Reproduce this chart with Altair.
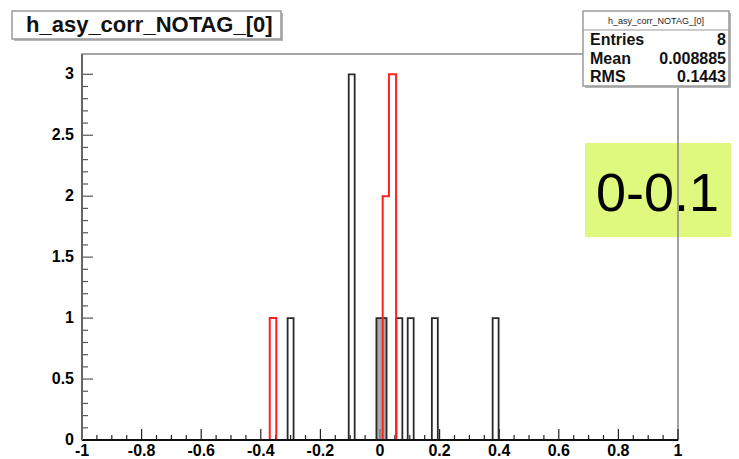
import altair as alt
import pandas as pd
import numpy as np

# ---- data ----
black_left = [-0.31, -0.105, -0.012, 0.055, 0.093, 0.174, 0.378]
black_right = [-0.29, -0.085, 0.022, 0.075, 0.113, 0.194, 0.398]
black_count = [1, 3, 1, 1, 1, 1, 1]
black_filled = [False, False, True, False, False, False, False]

red_left = [-0.37, 0.009, 0.030]
red_right = [-0.348, 0.030, 0.054]
red_count = [1, 2, 3]

x_major = [-1, -0.8, -0.6, -0.4, -0.2, 0, 0.2, 0.4, 0.6, 0.8, 1]
x_labels = ["-1", "-0.8", "-0.6", "-0.4", "-0.2", "0", "0.2", "0.4", "0.6", "0.8", "1"]
y_major = [0, 0.5, 1, 1.5, 2, 2.5, 3]
y_labels = ["0", "0.5", "1", "1.5", "2", "2.5", "3"]

title_text = "h_asy_corr_NOTAG_[0]"
stat_labels = ["Entries", "Mean", "RMS"]
stat_values = ["8", "0.008885", "0.1443"]
tag_text = "0-0.1"

# ---- layout ----
W, H = 596, 384
XMIN, XMAX, YMAX = -1.0, 1.0, 3.15
FONT = "Liberation Sans, Arial, Helvetica, sans-serif"

xs = alt.Scale(domain=[XMIN, XMAX], nice=False, zero=False)
ys = alt.Scale(domain=[0, YMAX], nice=False, zero=False)
one = alt.Data(values=[{}])

# black histogram bars
bars = pd.DataFrame({
    "x0": black_left, "x1": black_right, "n": black_count,
    "b": [0] * len(black_count),
    "fo": [0.75 if f else 0.0 for f in black_filled],
})
bar_layer = alt.Chart(bars).mark_rect(stroke="#2a2a2a", strokeWidth=1.8, fill="#8f8f8f").encode(
    x=alt.X("x0:Q", scale=xs, axis=None), x2="x1:Q",
    y=alt.Y("n:Q", scale=ys, axis=None), y2="b:Q",
    fillOpacity=alt.FillOpacity("fo:Q", scale=None),
)

# red histogram as a step outline (contiguous bins merged)
rows = []
grp = 0
i = 0
while i < len(red_left):
    j = i
    while j + 1 < len(red_left) and abs(red_left[j + 1] - red_right[j]) < 1e-9:
        j += 1
    pts = [(red_left[i], 0)]
    for k in range(i, j + 1):
        pts.append((red_left[k], red_count[k]))
        pts.append((red_right[k], red_count[k]))
    pts.append((red_right[j], 0))
    for o, (px, py) in enumerate(pts):
        rows.append({"x": px, "y": py, "g": grp, "o": o})
    grp += 1
    i = j + 1
red_df = pd.DataFrame(rows)
red_layer = alt.Chart(red_df).mark_line(color="#ff2020", strokeWidth=2, interpolate="linear").encode(
    x=alt.X("x:Q", scale=xs, axis=None), y=alt.Y("y:Q", scale=ys, axis=None),
    detail="g:N", order="o:Q",
)

# ticks (ROOT style, pointing inward)
xt = np.round(np.arange(-1, 1.0001, 0.05), 4)
xt_df = pd.DataFrame({"v": xt, "len": [11 if abs(v * 5 - round(v * 5)) < 1e-6 else 5 for v in xt]})
xt_df["y0"] = 0.0
xt_df["y1"] = xt_df["len"] / H * YMAX
xtick_layer = alt.Chart(xt_df).mark_rule(color="#222", strokeWidth=1.2).encode(
    x=alt.X("v:Q", scale=xs, axis=None),
    y=alt.Y("y0:Q", scale=ys, axis=None), y2="y1:Q",
)

yt = np.round(np.arange(0, 3.0001, 0.1), 4)
yt_df = pd.DataFrame({"v": yt, "len": [11 if abs(v * 2 - round(v * 2)) < 1e-6 else 6 for v in yt]})
yt_df["x0"] = XMIN
yt_df["x1"] = XMIN + yt_df["len"] / W * (XMAX - XMIN)
ytick_layer = alt.Chart(yt_df).mark_rule(color="#555", strokeWidth=1.2).encode(
    y=alt.Y("v:Q", scale=ys, axis=None),
    x=alt.X("x0:Q", scale=xs, axis=None), x2="x1:Q",
)

# tick labels
xl_df = pd.DataFrame({"v": x_major, "t": x_labels})
xlab_layer = alt.Chart(xl_df).mark_text(
    font=FONT, fontSize=16, fontWeight="bold", align="center", baseline="top", color="black").encode(
    x=alt.X("v:Q", scale=xs, axis=None), y=alt.value(H + 3), text="t:N")
yl_df = pd.DataFrame({"v": y_major, "t": y_labels})
ylab_layer = alt.Chart(yl_df).mark_text(
    font=FONT, fontSize=16, fontWeight="bold", align="right", baseline="middle", color="black").encode(
    y=alt.Y("v:Q", scale=ys, axis=None), x=alt.value(-8), text="t:N")

# frame and axis lines
frame = alt.Chart(one).mark_rect(fillOpacity=0, stroke="#8a8a8a", strokeWidth=1.6).encode(
    x=alt.value(0), x2=alt.value(W), y=alt.value(-2), y2=alt.value(H))
xaxis_line = alt.Chart(one).mark_rule(color="#111", strokeWidth=2).encode(
    x=alt.value(0), x2=alt.value(W), y=alt.value(H))
yaxis_line = alt.Chart(one).mark_rule(color="#666", strokeWidth=2).encode(
    x=alt.value(0), y=alt.value(-2), y2=alt.value(H))

# green tag
green = alt.Chart(one).mark_rect(fill="#dff97f").encode(
    x=alt.value(503), x2=alt.value(660), y=alt.value(87), y2=alt.value(181))
green_text = alt.Chart(one).mark_text(
    text=tag_text, font=FONT, fontSize=54, align="left", baseline="alphabetic", color="black").encode(
    x=alt.value(514), y=alt.value(155))

# title box
t_shadow = alt.Chart(one).mark_rect(fill="#b5b5b5").encode(
    x=alt.value(-68), x2=alt.value(201), y=alt.value(-43), y2=alt.value(-15))
t_box = alt.Chart(one).mark_rect(fill="white", stroke="#9a9a9a", strokeWidth=1.5).encode(
    x=alt.value(-70), x2=alt.value(199), y=alt.value(-45), y2=alt.value(-17))
t_text = alt.Chart(one).mark_text(
    text=title_text, font=FONT, fontSize=22, fontWeight="bold", align="left",
    baseline="middle", color="#111").encode(x=alt.value(-56), y=alt.value(-31))

# stats box (kept within the drawable width)
SX0, SX1 = 501, 647
s_shadow = alt.Chart(one).mark_rect(fill="#b5b5b5").encode(
    x=alt.value(SX0 + 2), x2=alt.value(SX1 + 2), y=alt.value(-43), y2=alt.value(32))
s_box = alt.Chart(one).mark_rect(fill="white", stroke="#9a9a9a", strokeWidth=1.5).encode(
    x=alt.value(SX0), x2=alt.value(SX1), y=alt.value(-45), y2=alt.value(30))
s_sep = alt.Chart(one).mark_rule(color="#9a9a9a", strokeWidth=1.2).encode(
    x=alt.value(SX0), x2=alt.value(SX1), y=alt.value(-26))
s_head = alt.Chart(one).mark_text(
    text=title_text, font=FONT, fontSize=9, align="center", baseline="middle",
    color="#222").encode(x=alt.value((SX0 + SX1) / 2), y=alt.value(-35))
stats_df = pd.DataFrame({"lab": stat_labels, "val": stat_values})
stats_df["ypx"] = [-16, 3, 21]
s_lab = alt.Chart(stats_df).mark_text(
    font=FONT, fontSize=16, fontWeight="bold", align="left", baseline="middle", color="#111").encode(
    text="lab:N", x=alt.value(SX0 + 7), y=alt.Y("ypx:Q", scale=None, axis=None))
s_val = alt.Chart(stats_df).mark_text(
    font=FONT, fontSize=16, fontWeight="bold", align="right", baseline="middle", color="#111").encode(
    text="val:N", x=alt.value(SX1 - 3), y=alt.Y("ypx:Q", scale=None, axis=None))

chart = alt.layer(
    green, green_text, frame, xtick_layer, ytick_layer, bar_layer, red_layer,
    xaxis_line, yaxis_line, xlab_layer, ylab_layer,
    s_shadow, s_box, s_sep, s_head, s_lab, s_val,
    t_shadow, t_box, t_text,
).resolve_scale(y="independent").properties(
    width=W, height=H, autosize="none",
    padding={"left": 74, "top": 48, "right": 53, "bottom": 19},
    background="white",
).configure_view(stroke=None)

chart.save("out.html", embed_options={"renderer": "svg", "actions": False})
